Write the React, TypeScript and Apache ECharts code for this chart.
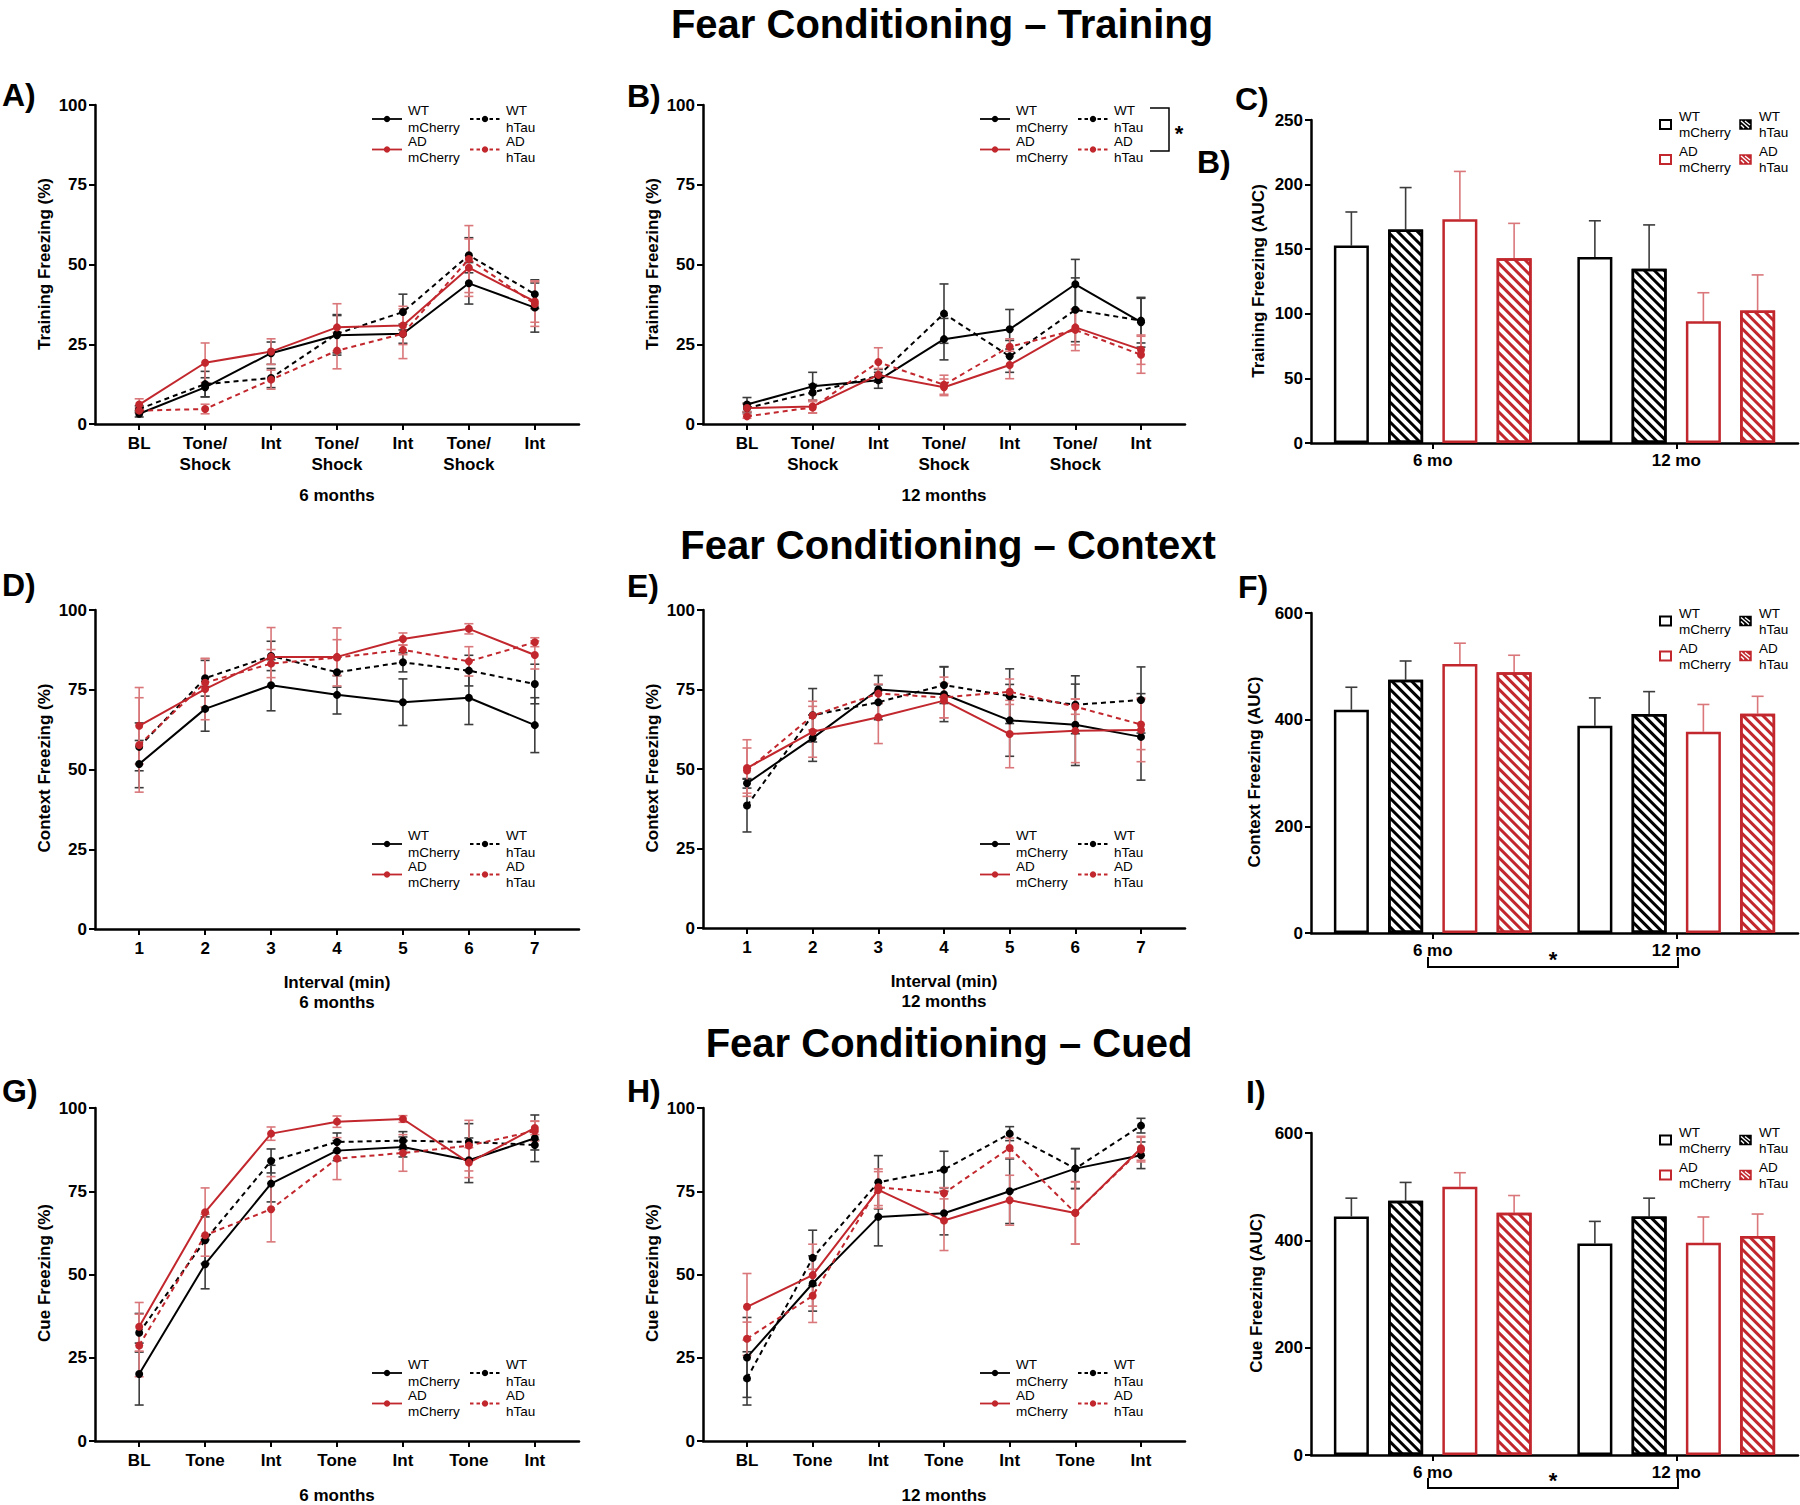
import React, { useEffect, useRef } from 'react';
import * as echarts from 'echarts';

// ---------------- DATA ----------------
const trainingCats = ['BL', 'Tone/\nShock', 'Int', 'Tone/\nShock', 'Int', 'Tone/\nShock', 'Int'];
const intervalCats = ['1', '2', '3', '4', '5', '6', '7'];
const cueCats = ['BL', 'Tone', 'Int', 'Tone', 'Int', 'Tone', 'Int'];
const groupNames = ['WT\nmCherry', 'WT\nhTau', 'AD\nmCherry', 'AD\nhTau'];
const ageCats = ['6 mo', '12 mo'];

// A) Training, 6 months (mean, SEM)
const trainWTmCherry6 = [3.2, 11.5, 22.2, 27.8, 28.3, 44.1, 36.5];
const trainWThTau6 = [4.7, 12.5, 14.4, 28.3, 35.1, 52.9, 40.7];
const trainADmCherry6 = [6.1, 19.2, 22.7, 30.3, 30.9, 49.0, 38.4];
const trainADhTau6 = [4.2, 4.7, 13.9, 23.0, 28.3, 51.7, 37.6];
const trainWTmCherry6Err = [1.0, 3.0, 3.5, 6.2, 3.0, 6.5, 7.7];
const trainWThTau6Err = [1.0, 4.0, 3.0, 6.0, 5.6, 5.5, 4.5];
const trainADmCherry6Err = [1.8, 6.2, 4.0, 7.4, 6.0, 9.0, 6.5];
const trainADhTau6Err = [0.8, 1.5, 3.0, 5.7, 7.8, 10.5, 7.0];

// B) Training, 12 months
const trainWTmCherry12 = [6.1, 11.8, 13.7, 26.6, 29.7, 43.8, 31.9];
const trainWThTau12 = [5.0, 9.9, 15.1, 34.6, 21.2, 35.8, 32.4];
const trainADmCherry12 = [5.0, 5.5, 15.4, 11.5, 18.5, 30.3, 23.3];
const trainADhTau12 = [2.4, 5.2, 19.4, 12.3, 24.2, 29.5, 21.7];
const trainWTmCherry12Err = [2.2, 4.4, 2.5, 6.5, 6.2, 7.8, 7.8];
const trainWThTau12Err = [1.5, 2.5, 2.0, 9.3, 5.0, 10.0, 7.0];
const trainADmCherry12Err = [1.2, 2.0, 2.0, 2.6, 4.3, 5.5, 4.6];
const trainADhTau12Err = [0.6, 1.8, 4.5, 3.0, 2.5, 6.5, 5.8];

// C) Training AUC (6 mo, 12 mo)
const trainAucWTmCherry = [152.8, 144.0];
const trainAucWThTau = [165.2, 134.8];
const trainAucADmCherry = [173.2, 94.3];
const trainAucADhTau = [143.0, 102.6];
const trainAucWTmCherryErr = [26, 28];
const trainAucWThTauErr = [32.5, 34];
const trainAucADmCherryErr = [37, 22];
const trainAucADhTauErr = [27, 27.5];

// D) Context, 6 months
const ctxWTmCherry6 = [51.7, 69.0, 76.4, 73.4, 71.1, 72.5, 63.9];
const ctxWThTau6 = [57.1, 78.6, 85.6, 80.5, 83.6, 81.0, 76.8];
const ctxADmCherry6 = [63.7, 75.2, 85.3, 85.3, 90.9, 94.1, 85.9];
const ctxADhTau6 = [57.7, 77.2, 83.2, 85.1, 87.5, 83.9, 89.9];
const ctxWTmCherry6Err = [7.4, 7.0, 8.0, 6.0, 7.3, 8.4, 8.6];
const ctxWThTau6Err = [7.5, 5.6, 4.6, 4.7, 3.0, 4.8, 6.2];
const ctxADmCherry6Err = [12.0, 9.6, 9.2, 9.1, 1.9, 1.6, 4.4];
const ctxADhTau6Err = [14.8, 7.6, 4.4, 5.6, 1.5, 4.6, 1.4];

// E) Context, 12 months
const ctxWTmCherry12 = [45.5, 59.7, 75.0, 73.5, 65.3, 63.9, 60.1];
const ctxWThTau12 = [38.5, 66.9, 71.0, 76.4, 72.9, 70.2, 71.7];
const ctxADmCherry12 = [50.3, 61.7, 66.3, 71.5, 61.0, 62.0, 62.3];
const ctxADhTau12 = [49.5, 66.8, 73.7, 72.5, 74.3, 69.6, 64.0];
const ctxWTmCherry12Err = [1.5, 7.3, 4.4, 8.6, 11.3, 12.8, 13.6];
const ctxWThTau12Err = [8.3, 8.4, 5.5, 5.8, 8.6, 9.1, 10.4];
const ctxADmCherry12Err = [8.9, 8.0, 8.3, 5.4, 10.6, 10.0, 10.0];
const ctxADhTau12Err = [7.1, 4.5, 3.0, 6.4, 4.0, 2.4, 7.9];

// F) Context AUC
const ctxAucWTmCherry = [418.8, 388.8];
const ctxAucWThTau = [475.0, 410.6];
const ctxAucADmCherry = [504.4, 377.5];
const ctxAucADhTau = [488.8, 411.3];
const ctxAucWTmCherryErr = [42, 52];
const ctxAucWThTauErr = [35, 42];
const ctxAucADmCherryErr = [39, 51];
const ctxAucADhTauErr = [32, 32.5];

// G) Cued, 6 months
const cueWTmCherry6 = [20.1, 53.1, 77.3, 87.2, 88.3, 84.3, 90.9];
const cueWThTau6 = [32.5, 60.3, 84.1, 89.8, 90.2, 89.8, 88.9];
const cueADmCherry6 = [34.3, 68.7, 92.3, 95.9, 96.7, 83.6, 94.0];
const cueADhTau6 = [28.7, 61.8, 69.6, 84.8, 86.5, 88.7, 93.1];
const cueWTmCherry6Err = [9.3, 7.4, 5.5, 3.0, 3.0, 6.7, 7.0];
const cueWThTau6Err = [5.8, 7.0, 3.6, 2.7, 2.7, 5.5, 1.5];
const cueADmCherry6Err = [7.3, 7.3, 2.0, 1.7, 1.0, 4.5, 2.0];
const cueADhTau6Err = [9.4, 6.3, 9.8, 6.3, 5.5, 7.6, 3.0];

// H) Cued, 12 months
const cueWTmCherry12 = [25.1, 47.3, 67.3, 68.4, 75.0, 81.8, 85.8];
const cueWThTau12 = [18.8, 55.0, 77.7, 81.5, 92.3, 81.8, 94.7];
const cueADmCherry12 = [40.3, 49.8, 75.4, 66.2, 72.3, 68.5, 87.9];
const cueADhTau12 = [30.7, 43.6, 76.2, 74.4, 88.0, 68.5, 87.5];
const cueWTmCherry12Err = [12.0, 8.3, 8.7, 6.5, 9.7, 6.0, 4.0];
const cueWThTau12Err = [8.0, 8.3, 8.0, 5.5, 2.1, 6.0, 2.2];
const cueADmCherry12Err = [10.0, 9.3, 5.5, 9.0, 7.5, 9.4, 3.6];
const cueADhTau12Err = [5.0, 8.0, 5.5, 1.7, 3.0, 9.3, 3.7];

// I) Cue AUC
const cueAucWTmCherry = [444.6, 394.3];
const cueAucWThTau = [473.9, 444.6];
const cueAucADmCherry = [500.0, 395.5];
const cueAucADhTau = [451.5, 408.0];
const cueAucWTmCherryErr = [34, 41];
const cueAucWThTauErr = [34, 34];
const cueAucADmCherryErr = [26, 48];
const cueAucADhTauErr = [32, 41];

// ---------------- STYLE ----------------
const FONT = '"Liberation Sans", Arial, Helvetica, sans-serif';
const BLACK = '#000000';
const RED = '#c1272d';
const BLACK_ERR = '#3c3c3c';
const RED_ERR = '#d9777a';
const SERIES_STYLES = [
  { color: BLACK, err: BLACK_ERR, dash: false },
  { color: BLACK, err: BLACK_ERR, dash: true },
  { color: RED, err: RED_ERR, dash: false },
  { color: RED, err: RED_ERR, dash: true },
];
const BAR_W = 35;
const BAR_GAP = 0.55;

function buildOption() {
  const grids: any[] = [];
  const xAxes: any[] = [];
  const yAxes: any[] = [];
  const series: any[] = [];
  const axisLine = { show: true, onZero: false, lineStyle: { color: '#000', width: 2.5 } };
  const axisTick = { show: true, length: 6, lineStyle: { color: '#000', width: 2 } };
  const labelStyle = { color: '#000', fontFamily: FONT, fontWeight: 'bold', fontSize: 17 };

  const errRender = (color: string, cap: number, offset: number, lower: boolean) => (params: any, api: any) => {
    const x = api.value(0);
    const lo = api.coord([x, api.value(1)]);
    const hi = api.coord([x, api.value(2)]);
    const px = hi[0] + offset;
    const style = { stroke: color, lineWidth: 1.6, fill: null };
    const children: any[] = [
      { type: 'line', shape: { x1: px, y1: lo[1], x2: px, y2: hi[1] }, style },
      { type: 'line', shape: { x1: px - cap, y1: hi[1], x2: px + cap, y2: hi[1] }, style },
    ];
    if (lower) children.push({ type: 'line', shape: { x1: px - cap, y1: lo[1], x2: px + cap, y2: lo[1] }, style });
    return { type: 'group', children };
  };

  const addLinePanel = (g: any, cats: string[], means: number[][], errs: number[][]) => {
    const i = grids.length;
    grids.push({ ...g, containLabel: false, outerBoundsMode: 'none' });
    const ticks = cats.map((_, k) => k + 1);
    xAxes.push({
      gridIndex: i, type: 'value', min: 0.33, max: 7.67,
      axisLine, axisTick: { ...axisTick, customValues: ticks },
      axisLabel: { ...labelStyle, customValues: ticks, margin: 9, lineHeight: 21,
        formatter: (v: number) => cats[Math.round(v) - 1] ?? '' },
      splitLine: { show: false },
    });
    yAxes.push({
      gridIndex: i, type: 'value', min: 0, max: 100, interval: 25,
      axisLine, axisTick, axisLabel: { ...labelStyle, margin: 8 }, splitLine: { show: false },
    });
    means.forEach((m, s) => {
      const st = SERIES_STYLES[s];
      series.push({
        type: 'custom', xAxisIndex: i, yAxisIndex: i, z: 2, silent: true,
        data: m.map((v, k) => [k + 1, v - errs[s][k], v + errs[s][k]]),
        encode: { x: 0, y: [1, 2] },
        renderItem: errRender(st.err, 4.5, 0, true),
      });
    });
    means.forEach((m, s) => {
      const st = SERIES_STYLES[s];
      series.push({
        type: 'line', xAxisIndex: i, yAxisIndex: i, z: 3, silent: true,
        data: m.map((v, k) => [k + 1, v]),
        symbol: 'circle', symbolSize: 8, showSymbol: true,
        lineStyle: { color: st.color, width: 2, type: st.dash ? [5, 4] : 'solid' },
        itemStyle: { color: st.color },
      });
    });
  };

  const addBarPanel = (g: any, max: number, interval: number, means: number[][], errs: number[][]) => {
    const i = grids.length;
    grids.push({ ...g, containLabel: false, outerBoundsMode: 'none' });
    xAxes.push({
      gridIndex: i, type: 'category', data: ageCats,
      axisLine, axisTick: { ...axisTick, alignWithLabel: true },
      axisLabel: { ...labelStyle, margin: 9 }, splitLine: { show: false },
    });
    yAxes.push({
      gridIndex: i, type: 'value', min: 0, max, interval,
      axisLine, axisTick, axisLabel: { ...labelStyle, margin: 8 }, splitLine: { show: false },
    });
    means.forEach((m, s) => {
      const st = SERIES_STYLES[s];
      const itemStyle: any = { color: '#ffffff', borderColor: st.color, borderWidth: 2.5 };
      if (st.dash) {
        itemStyle.decal = {
          symbol: 'rect', symbolSize: 1, dashArrayX: [1, 0], dashArrayY: [2.6, 3.2],
          rotation: Math.PI / 4, color: st.color, backgroundColor: '#ffffff',
        };
      }
      series.push({
        type: 'bar', xAxisIndex: i, yAxisIndex: i, z: 3, silent: true,
        data: m, barWidth: BAR_W, barGap: `${BAR_GAP * 100}%`, itemStyle,
      });
    });
    means.forEach((m, s) => {
      const st = SERIES_STYLES[s];
      const offset = (s - 1.5) * BAR_W * (1 + BAR_GAP);
      series.push({
        type: 'custom', xAxisIndex: i, yAxisIndex: i, z: 2, silent: true,
        data: m.map((v, k) => [k, v, v + errs[s][k]]),
        encode: { x: 0, y: [1, 2] },
        renderItem: errRender(st.err, 6, offset, false),
      });
    });
  };

  addLinePanel({ left: 95, top: 105, width: 484, height: 319 }, trainingCats,
    [trainWTmCherry6, trainWThTau6, trainADmCherry6, trainADhTau6],
    [trainWTmCherry6Err, trainWThTau6Err, trainADmCherry6Err, trainADhTau6Err]);
  addLinePanel({ left: 703, top: 105, width: 482, height: 319 }, trainingCats,
    [trainWTmCherry12, trainWThTau12, trainADmCherry12, trainADhTau12],
    [trainWTmCherry12Err, trainWThTau12Err, trainADmCherry12Err, trainADhTau12Err]);
  addBarPanel({ left: 1311, top: 120, width: 487, height: 323 }, 250, 50,
    [trainAucWTmCherry, trainAucWThTau, trainAucADmCherry, trainAucADhTau],
    [trainAucWTmCherryErr, trainAucWThTauErr, trainAucADmCherryErr, trainAucADhTauErr]);

  addLinePanel({ left: 95, top: 610, width: 484, height: 319 }, intervalCats,
    [ctxWTmCherry6, ctxWThTau6, ctxADmCherry6, ctxADhTau6],
    [ctxWTmCherry6Err, ctxWThTau6Err, ctxADmCherry6Err, ctxADhTau6Err]);
  addLinePanel({ left: 703, top: 610, width: 482, height: 318 }, intervalCats,
    [ctxWTmCherry12, ctxWThTau12, ctxADmCherry12, ctxADhTau12],
    [ctxWTmCherry12Err, ctxWThTau12Err, ctxADmCherry12Err, ctxADhTau12Err]);
  addBarPanel({ left: 1311, top: 613, width: 487, height: 320 }, 600, 200,
    [ctxAucWTmCherry, ctxAucWThTau, ctxAucADmCherry, ctxAucADhTau],
    [ctxAucWTmCherryErr, ctxAucWThTauErr, ctxAucADmCherryErr, ctxAucADhTauErr]);

  addLinePanel({ left: 95, top: 1108, width: 484, height: 333 }, cueCats,
    [cueWTmCherry6, cueWThTau6, cueADmCherry6, cueADhTau6],
    [cueWTmCherry6Err, cueWThTau6Err, cueADmCherry6Err, cueADhTau6Err]);
  addLinePanel({ left: 703, top: 1108, width: 482, height: 333 }, cueCats,
    [cueWTmCherry12, cueWThTau12, cueADmCherry12, cueADhTau12],
    [cueWTmCherry12Err, cueWThTau12Err, cueADmCherry12Err, cueADhTau12Err]);
  addBarPanel({ left: 1311, top: 1133, width: 487, height: 322 }, 600, 200,
    [cueAucWTmCherry, cueAucWThTau, cueAucADmCherry, cueAucADhTau],
    [cueAucWTmCherryErr, cueAucWThTauErr, cueAucADmCherryErr, cueAucADhTauErr]);

  // ---------- graphics ----------
  const graphic: any[] = [];
  const txt = (text: string, x: number, y: number, size: number, o: any = {}) => ({
    type: 'text', x, y, rotation: o.rot ?? 0, silent: true,
    style: {
      text, fontSize: size, fontWeight: o.weight ?? 'bold', fontFamily: FONT, fill: '#000',
      align: o.align ?? 'left', verticalAlign: 'middle', lineHeight: o.lh ?? Math.round(size * 1.2),
    },
  });

  // titles
  graphic.push(txt('Fear Conditioning – Training', 942, 24, 40, { align: 'center', lh: 44 }));
  graphic.push(txt('Fear Conditioning – Context', 948, 545, 40, { align: 'center', lh: 44 }));
  graphic.push(txt('Fear Conditioning – Cued', 949, 1043, 40, { align: 'center', lh: 44 }));

  // panel letters
  const letters: [string, number, number][] = [
    ['A)', 2, 95], ['B)', 627, 96], ['C)', 1235, 99], ['B)', 1197, 162],
    ['D)', 2, 585], ['E)', 627, 586], ['F)', 1238, 587],
    ['G)', 2, 1091], ['H)', 627, 1091], ['I)', 1246, 1092],
  ];
  letters.forEach(([t, x, y]) => graphic.push(txt(t, x, y, 32)));

  // y-axis titles
  const yTitles: [string, number, number][] = [
    ['Training Freezing (%)', 44, 264], ['Training Freezing (%)', 652, 264], ['Training Freezing (AUC)', 1258, 281],
    ['Context Freezing (%)', 44, 768], ['Context Freezing (%)', 652, 768], ['Context Freezing (AUC)', 1254, 772],
    ['Cue Freezing (%)', 44, 1273], ['Cue Freezing (%)', 652, 1273], ['Cue Freezing (AUC)', 1256, 1293],
  ];
  yTitles.forEach(([t, x, y]) => graphic.push(txt(t, x, y, 17, { align: 'center', rot: Math.PI / 2 })));

  // x-axis titles
  const xTitles: [string, number, number][] = [
    ['6 months', 337, 495], ['12 months', 944, 495],
    ['Interval (min)\n6 months', 337, 992], ['Interval (min)\n12 months', 944, 991],
    ['6 months', 337, 1495], ['12 months', 944, 1495],
  ];
  xTitles.forEach(([t, x, y]) => graphic.push(txt(t, x, y, 17, { align: 'center', lh: 20 })));

  // line legends
  const lineLegend = (x0: number, y0: number) => {
    groupNames.forEach((name, s) => {
      const st = SERIES_STYLES[s];
      const col = s % 2;
      const row = Math.floor(s / 2);
      const x = x0 + col * 98;
      const y = y0 + row * 30.5;
      graphic.push({ type: 'line', silent: true, shape: { x1: x, y1: y, x2: x + 30, y2: y },
        style: { stroke: st.color, lineWidth: 1.8, lineDash: st.dash ? [3.5, 3] : null } });
      graphic.push({ type: 'circle', silent: true, shape: { cx: x + 15, cy: y, r: 3.2 }, style: { fill: st.color } });
      graphic.push(txt(name, x + 36, y, 13.5, { weight: 'normal', lh: 16.5 }));
    });
  };
  lineLegend(372, 119);
  lineLegend(980, 119);
  lineLegend(372, 844);
  lineLegend(980, 844);
  lineLegend(372, 1373);
  lineLegend(980, 1373);

  // bar legends
  const barLegend = (x0: number, y0: number) => {
    groupNames.forEach((name, s) => {
      const st = SERIES_STYLES[s];
      const col = s % 2;
      const row = Math.floor(s / 2);
      const x = x0 + col * 80;
      const y = y0 + row * 35;
      if (st.dash) {
        graphic.push({ type: 'rect', silent: true, shape: { x, y: y - 4.5, width: 11, height: 9 },
          style: { fill: st.color, stroke: st.color, lineWidth: 1.5 } });
        [[x + 1, y - 3.5, x + 9, y + 3.5], [x + 5, y - 3.5, x + 10, y + 0.5], [x + 1, y + 0.5, x + 4, y + 3.5]].forEach((l) => {
          graphic.push({ type: 'line', silent: true, shape: { x1: l[0], y1: l[1], x2: l[2], y2: l[3] },
            style: { stroke: '#fff', lineWidth: 1.4 } });
        });
      } else {
        graphic.push({ type: 'rect', silent: true, shape: { x, y: y - 4.5, width: 11, height: 9 },
          style: { fill: '#fff', stroke: st.color, lineWidth: 2 } });
      }
      graphic.push(txt(name, x + 19, y, 13.5, { weight: 'normal', lh: 16 }));
    });
  };
  barLegend(1660, 124.5);
  barLegend(1660, 621);
  barLegend(1660, 1140);

  // significance markers
  graphic.push({ type: 'polyline', silent: true,
    shape: { points: [[1150, 108], [1169, 108], [1169, 151], [1150, 151]] },
    style: { stroke: '#000', lineWidth: 1.5, fill: null } });
  graphic.push(txt('*', 1179, 133, 22, { align: 'center' }));

  const bracket = (y: number) => {
    graphic.push({ type: 'polyline', silent: true,
      shape: { points: [[1428, y - 10], [1428, y], [1678, y], [1678, y - 10]] },
      style: { stroke: '#000', lineWidth: 2, fill: null } });
    graphic.push(txt('*', 1553, y - 8, 22, { align: 'center' }));
  };
  bracket(967);
  bracket(1488);

  return {
    animation: false,
    backgroundColor: '#ffffff',
    grid: grids,
    xAxis: xAxes,
    yAxis: yAxes,
    series,
    graphic,
  };
}

export default function App() {
  const ref = useRef<HTMLDivElement>(null);
  useEffect(() => {
    document.body.style.margin = '0';
    if (!ref.current) return;
    const chart = echarts.init(ref.current, null, { renderer: 'svg' });
    chart.setOption(buildOption() as any);
    return () => chart.dispose();
  }, []);
  return <div ref={ref} style={{ width: 1800, height: 1505, background: '#fff' }} />;
}
